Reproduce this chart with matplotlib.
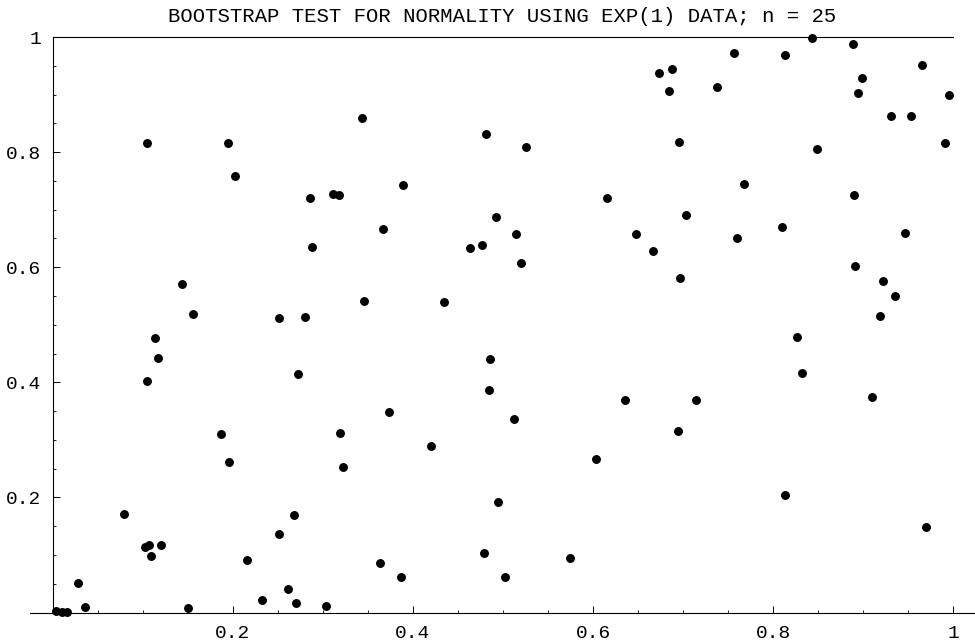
import matplotlib
matplotlib.use("Agg")
import matplotlib.pyplot as plt
from matplotlib.ticker import MultipleLocator

# bootstrap p-value pairs
x_vals = [0.105, 0.195, 0.203, 0.286, 0.288, 0.144, 0.156, 0.251, 0.280,
          0.343, 0.311, 0.318, 0.389, 0.481, 0.526, 0.367, 0.492, 0.615,
          0.514, 0.463, 0.477, 0.648, 0.520, 0.346, 0.435,
          0.843, 0.888, 0.756, 0.813, 0.965, 0.673, 0.688, 0.684, 0.738,
          0.898, 0.894, 0.995, 0.931, 0.953, 0.695, 0.849, 0.991, 0.767,
          0.890, 0.703, 0.810, 0.760, 0.946, 0.666, 0.891, 0.696, 0.922,
          0.935, 0.919,
          0.114, 0.117, 0.105, 0.272, 0.187, 0.196, 0.079, 0.268, 0.251,
          0.103, 0.107, 0.120, 0.109, 0.216, 0.028, 0.261, 0.233, 0.270,
          0.304, 0.036, 0.150, 0.004, 0.010, 0.016,
          0.486, 0.484, 0.319, 0.322, 0.374, 0.420, 0.512, 0.635, 0.603,
          0.494, 0.479, 0.574, 0.363, 0.387, 0.502,
          0.826, 0.832, 0.714, 0.694, 0.910, 0.813, 0.969]
y_vals = [0.816, 0.816, 0.758, 0.721, 0.635, 0.570, 0.519, 0.511, 0.513,
          0.860, 0.727, 0.725, 0.743, 0.832, 0.808, 0.666, 0.688, 0.720,
          0.657, 0.633, 0.639, 0.658, 0.607, 0.542, 0.540,
          0.999, 0.987, 0.973, 0.968, 0.951, 0.937, 0.945, 0.907, 0.913,
          0.929, 0.902, 0.900, 0.863, 0.863, 0.818, 0.806, 0.815, 0.744,
          0.725, 0.690, 0.670, 0.650, 0.659, 0.629, 0.602, 0.582, 0.576,
          0.550, 0.515,
          0.477, 0.443, 0.402, 0.414, 0.311, 0.262, 0.172, 0.170, 0.136,
          0.114, 0.117, 0.117, 0.099, 0.091, 0.051, 0.041, 0.021, 0.016,
          0.012, 0.009, 0.008, 0.002, 0.001, 0.001,
          0.441, 0.386, 0.312, 0.253, 0.348, 0.289, 0.336, 0.370, 0.267,
          0.192, 0.103, 0.095, 0.086, 0.061, 0.062,
          0.478, 0.417, 0.370, 0.315, 0.375, 0.204, 0.149]

title = "BOOTSTRAP TEST FOR NORMALITY USING EXP(1) DATA; n = 25"
mono = "Liberation Mono"

W, H = 975, 641
fig = plt.figure(figsize=(W / 100, H / 100), dpi=100)
ax = fig.add_axes([30 / W, 28.5 / H, 946 / W, 575.5 / H])

ax.plot(x_vals, y_vals, 'o', color='black', ms=5.4, clip_on=False)

ax.set_xlim(-0.025, 1.025)
ax.set_ylim(0, 1)

ax.spines['right'].set_visible(False)
ax.spines['left'].set_position(('data', 0))
ax.spines['left'].set_bounds(0, 1)
ax.spines['top'].set_bounds(0, 1)
for s in ('left', 'top', 'bottom'):
    ax.spines[s].set_linewidth(0.8)

ax.xaxis.set_major_locator(MultipleLocator(0.2))
ax.xaxis.set_minor_locator(MultipleLocator(0.05))
ax.yaxis.set_major_locator(MultipleLocator(0.2))
ax.yaxis.set_minor_locator(MultipleLocator(0.05))
ax.set_xticks([0.2, 0.4, 0.6, 0.8, 1.0])
ax.set_xticklabels(['0.2', '0.4', '0.6', '0.8', '1'])
ax.set_yticks([0.2, 0.4, 0.6, 0.8, 1.0])
ax.set_yticklabels(['0.2', '0.4', '0.6', '0.8', '1'])

ax.tick_params(which='major', direction='in', length=5, width=0.7,
               labelsize=14, top=False, right=False)
ax.tick_params(which='minor', direction='in', length=2.2, width=0.6,
               top=False, right=False)
ax.tick_params(axis='x', pad=9)
ax.tick_params(axis='y', pad=8)
for lab in ax.get_xticklabels() + ax.get_yticklabels():
    lab.set_family(mono)

fig.text(502.5 / W, 1 - 16.5 / H, title, ha='center', va='center',
         fontsize=14.9, family=mono)

fig.savefig("out.png", dpi=100)
